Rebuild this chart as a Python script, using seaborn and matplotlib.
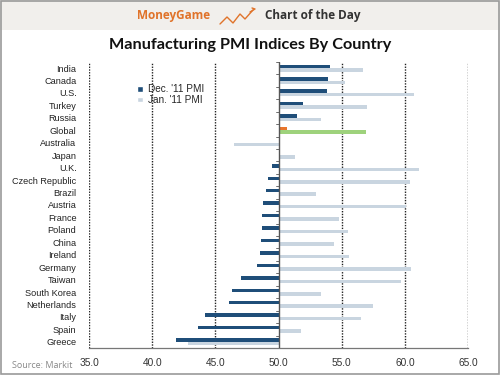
import numpy as np
import pandas as pd
import matplotlib
matplotlib.use("Agg")
import matplotlib.pyplot as plt
import seaborn as sns
from matplotlib.patches import Patch, Rectangle
from matplotlib.lines import Line2D
from matplotlib.ticker import FuncFormatter

countries = ["India", "Canada", "U.S.", "Turkey", "Russia", "Global", "Australia",
             "Japan", "U.K.", "Czech Republic", "Brazil", "Austria", "France",
             "Poland", "China", "Ireland", "Germany", "Taiwan", "South Korea",
             "Netherlands", "Italy", "Spain", "Greece"]
dec_11 = [54.1, 53.9, 53.8, 51.9, 51.5, 50.7, np.nan, np.nan, 49.5, 49.2, 49.0,
          48.8, 48.7, 48.7, 48.6, 48.5, 48.3, 47.0, 46.3, 46.1, 44.2, 43.6, 41.9]
jan_11 = [56.7, 55.3, 60.7, 57.0, 53.4, 56.9, 46.5, 51.3, 61.1, 60.4, 53.0,
          60.1, 54.8, 55.5, 54.4, 55.6, 60.5, 59.7, 53.4, 57.5, 56.5, 51.8, 42.8]
series_names = ["Dec. '11 PMI", "Jan. '11 PMI"]
x_ticks = [35, 40, 45, 50, 55, 60, 65]
base = 50

dark = "#1f4e79"
light = "#c9d5e0"
orange = "#e8762d"
green = "#9ed27c"

df = pd.DataFrame({
    "country": countries * 2,
    "delta": [v - base for v in dec_11] + [v - base for v in jan_11],
    "series": [series_names[0]] * len(countries) + [series_names[1]] * len(countries),
})

sns.set_style("white")
plt.rcParams["font.family"] = ["Liberation Sans", "DejaVu Sans"]

fig = plt.figure(figsize=(5, 3.75), dpi=100)
ax = fig.add_axes([0.178, 0.072, 0.758, 0.763])

sns.barplot(data=df, y="country", x="delta", hue="series", order=countries,
            hue_order=series_names, palette=[dark, light], orient="h",
            width=0.56, gap=0, dodge=True, legend=False, ax=ax,
            linewidth=0, saturation=1)

gi = countries.index("Global")
for p in ax.patches:
    yc = p.get_y() + p.get_height() / 2
    if abs(yc - gi) < 0.5:
        p.set_facecolor(orange if yc < gi else green)

ax.set_xlim(x_ticks[0] - base, x_ticks[-1] - base)
ax.set_ylim(len(countries) - 0.5, -0.5)
ax.set_xticks([t - base for t in x_ticks])
ax.xaxis.set_major_formatter(FuncFormatter(lambda v, _: f"{v + base:.1f}"))

for t in x_ticks:
    if t != base:
        ax.axvline(t - base, color="#222222", lw=1.0, ls=(0, (1, 1.0)), zorder=0)
ax.axvline(0, color="#555555", lw=1.0, zorder=3)
for i in range(len(countries) + 1):
    ax.plot([-0.22, 0], [i - 0.5, i - 0.5], color="#555555", lw=0.6, zorder=3)

ax.set_xlabel("")
ax.set_ylabel("")
for s in ["top", "right", "left"]:
    ax.spines[s].set_visible(False)
ax.spines["bottom"].set_color("#777777")
ax.spines["bottom"].set_linewidth(0.9)
ax.tick_params(axis="x", direction="inout", length=5, color="#777777",
               labelsize=7.3, labelcolor="#333333", pad=5)
ax.tick_params(axis="y", length=0, labelsize=6.6, labelcolor="#222222", pad=9)

handles = [Patch(facecolor=dark, label=series_names[0]),
           Patch(facecolor=light, label=series_names[1])]
ax.legend(handles=handles, loc="upper left", bbox_to_anchor=(0.115, 0.935),
          frameon=False, fontsize=7.2, handlelength=0.6, handleheight=0.5,
          handletextpad=0.5, labelspacing=0.05, borderaxespad=0)

# header band
fig.patches.append(Rectangle((0, 1 - 30 / 375), 1, 30 / 375, transform=fig.transFigure,
                             facecolor="#f1efec", edgecolor="none", zorder=0))
fig.patches.append(Rectangle((0.002, 0.003), 0.996, 0.994, transform=fig.transFigure,
                             facecolor="none", edgecolor="#9a9a9a", lw=1.2, zorder=5))
fig.text(0.42, 1 - 16 / 375, "MoneyGame", color="#e0732a", fontsize=8.5,
         fontweight="bold", ha="right", va="center", family=["Open Sans", "DejaVu Sans"])
fig.text(0.53, 1 - 16 / 375, "Chart of the Day", color="#333333", fontsize=8.5,
         fontweight="bold", ha="left", va="center", family=["Open Sans", "DejaVu Sans"])
zx = [220, 227, 233, 240, 245, 253]
zy = [24, 17, 23, 14, 19, 10]
fig.lines.append(Line2D([x / 500 for x in zx], [1 - y / 375 for y in zy],
                        transform=fig.transFigure, color="#e0732a", lw=1.0))
fig.lines.append(Line2D([252 / 500, 255 / 500, 250 / 500], [1 - 8 / 375, 1 - 9 / 375, 1 - 12 / 375],
                        transform=fig.transFigure, color="#e0732a", lw=1.0))

fig.text(0.5, 1 - 45 / 375, "Manufacturing PMI Indices By Country", ha="center",
         va="center", fontsize=11.7, fontweight="bold", color="#111111",
         family=["Lato", "DejaVu Sans"])
fig.text(0.024, 1 - 366 / 375, "Source: Markit", fontsize=6.5, color="#888888",
         ha="left", va="center", family=["Open Sans", "DejaVu Sans"])

fig.savefig("out.png", dpi=100)
